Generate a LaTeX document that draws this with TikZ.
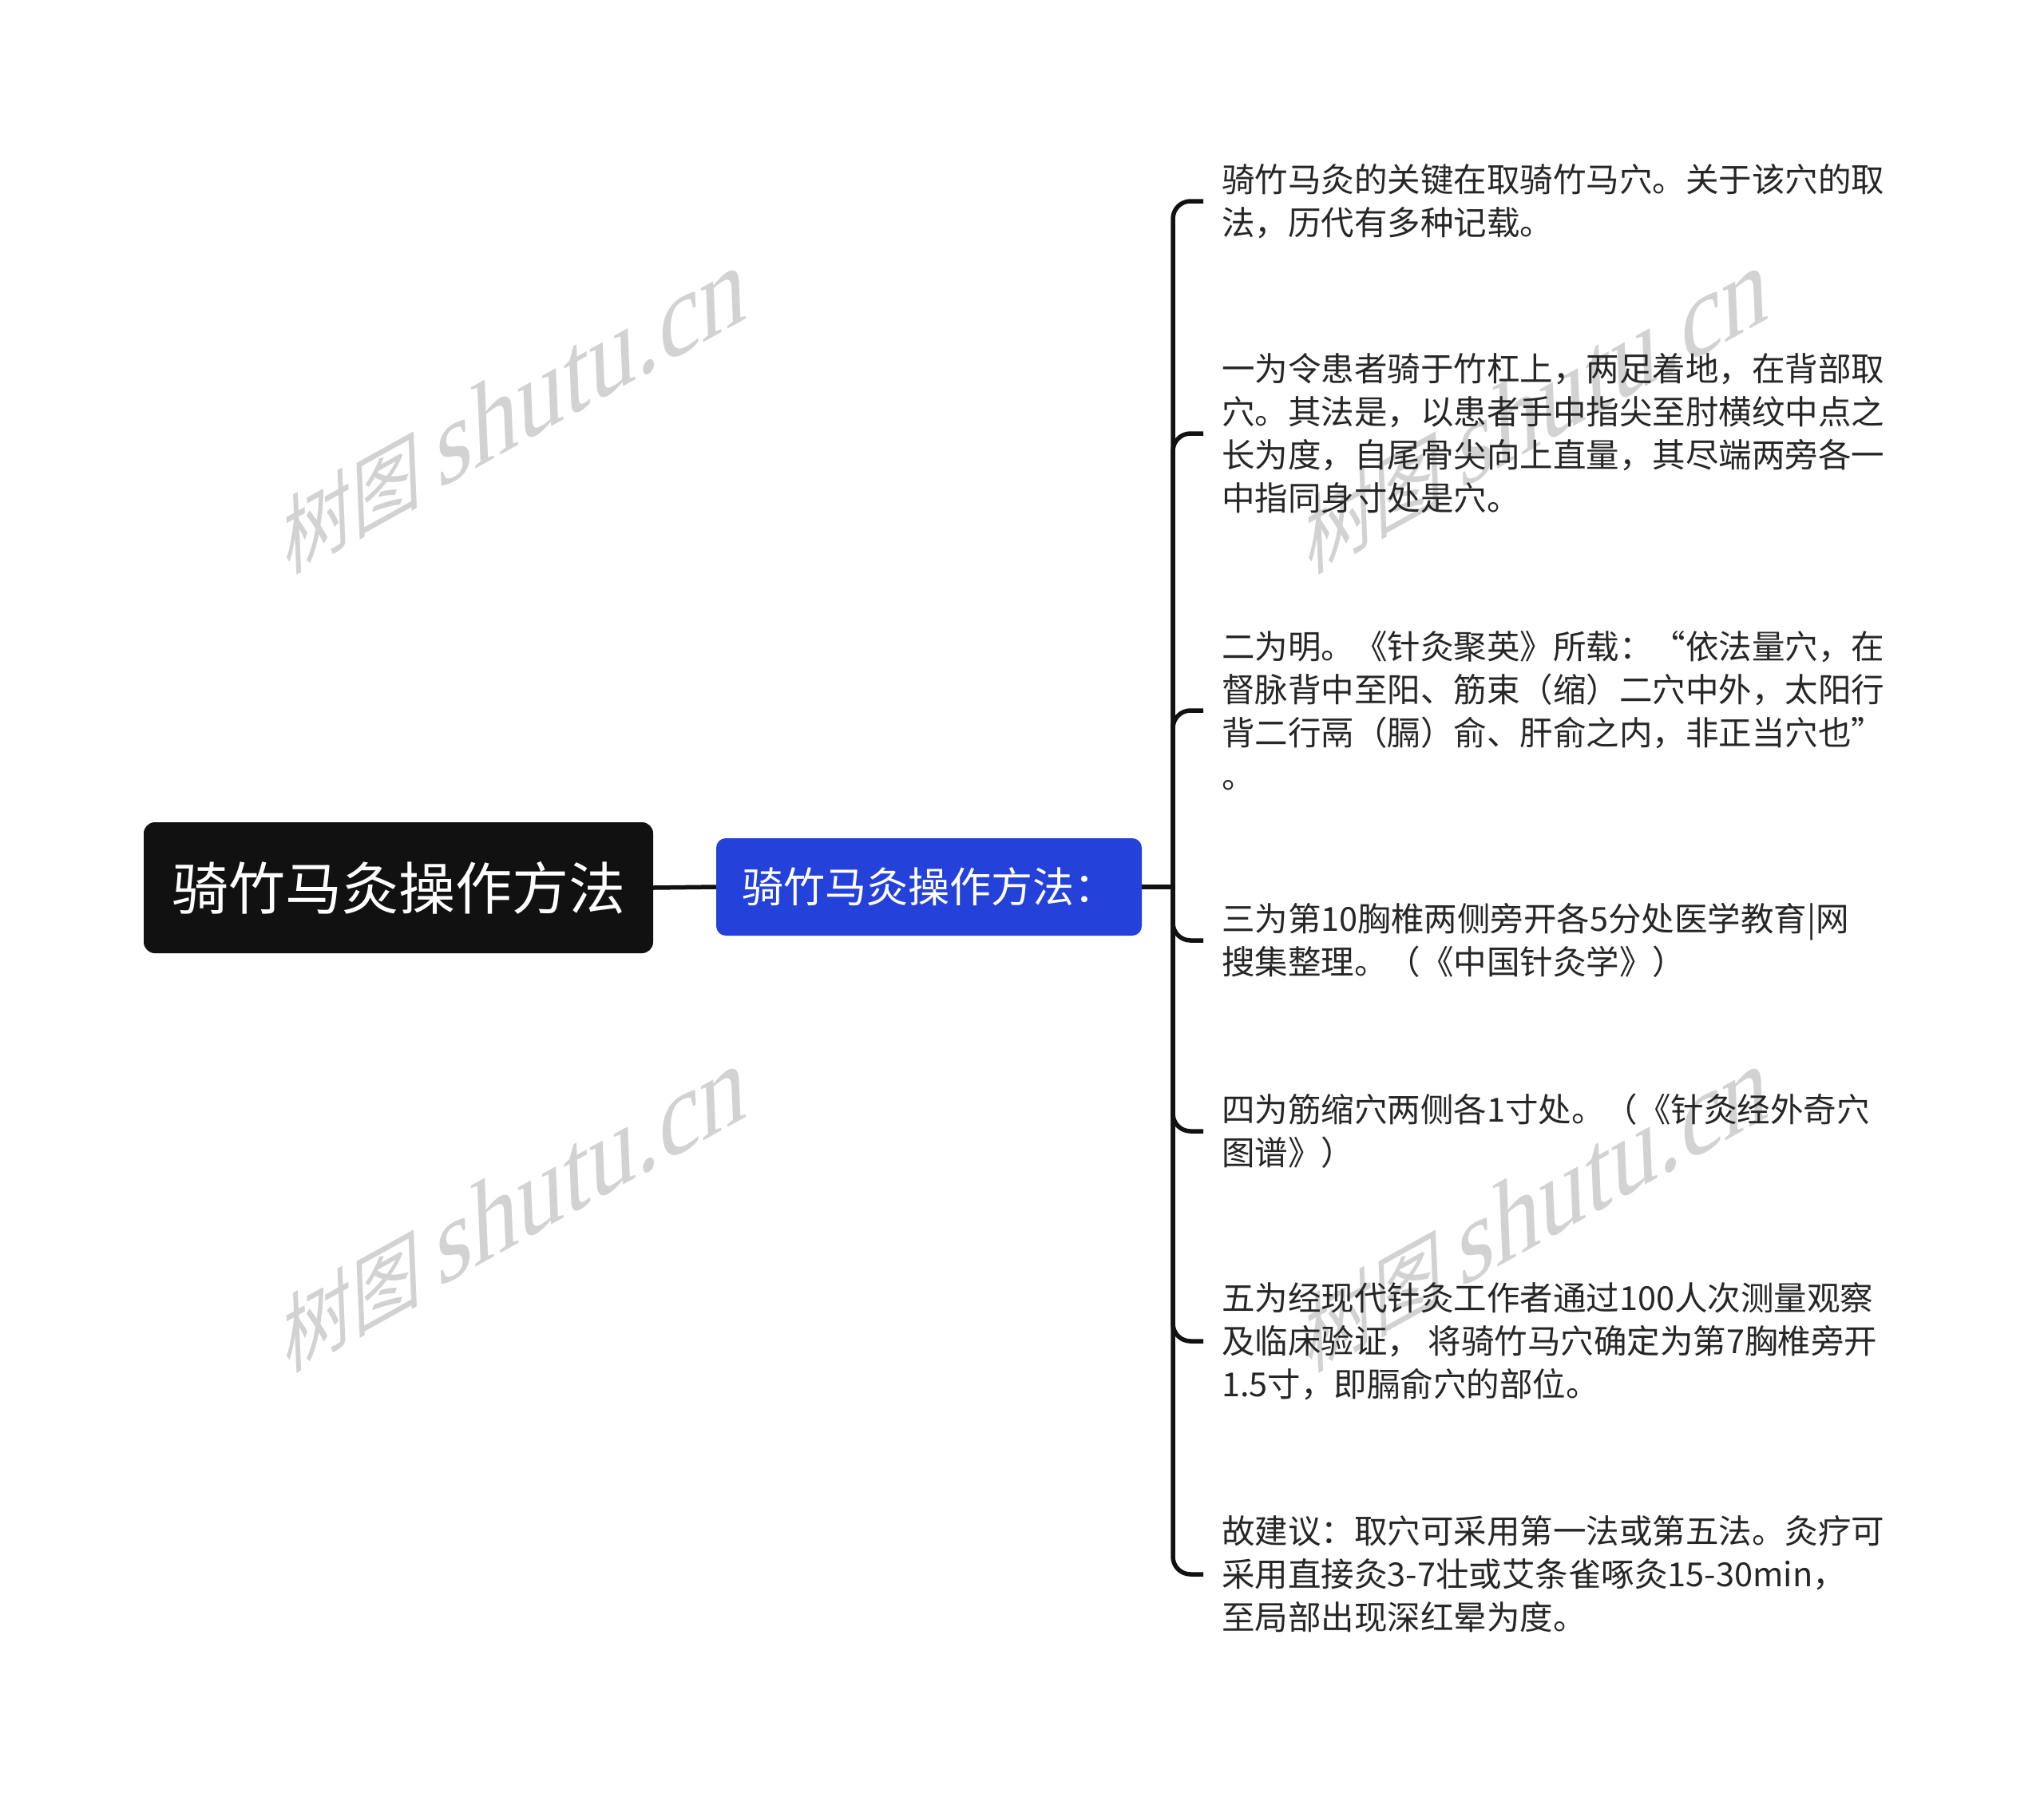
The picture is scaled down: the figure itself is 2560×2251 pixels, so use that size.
\documentclass[tikz,border=0pt]{standalone}
\usepackage{fontspec}
\newfontfamily\cjk{Noto Sans CJK SC}
\newfontfamily\wmserif{Liberation Serif}
\definecolor{rootfill}{HTML}{111111}
\definecolor{bluefill}{HTML}{2441DA}
\definecolor{wmgray}{HTML}{D2D2D2}
\definecolor{txt}{HTML}{262626}
\definecolor{linecol}{HTML}{111111}
\tikzset{
  conn/.style={line width=5.5pt, draw=linecol, rounded corners=22pt},
  rootbox/.style={rectangle, rounded corners=14pt, fill=rootfill, text=white,
    minimum width=638pt, minimum height=164pt, inner sep=0pt,
    font=\cjk\fontsize{71}{80}\selectfont},
  subbox/.style={rectangle, rounded corners=12pt, fill=bluefill, text=white,
    minimum width=533pt, minimum height=122pt, inner sep=0pt,
    font=\cjk\fontsize{52}{60}\selectfont},
  leaf/.style={anchor=west, inner xsep=23pt, inner ysep=0pt, align=left,
    text=txt, font=\cjk\fontsize{41.5}{54}\selectfont},
  wm/.style={text=wmgray, inner sep=0pt, transform shape}
}
\newcommand{\wmtext}{{\cjk\fontsize{98}{100}\selectfont 树图}\hspace{22pt}{\wmserif\fontsize{132}{134}\selectfont shutu.cn}}
\begin{document}
\begin{tikzpicture}[x=1pt,y=-1pt]
\useasboundingbox (0,0) rectangle (2560,2251);
\fill[white] (0,0) rectangle (2560,2251);

% watermarks
\begin{scope}[shift={(645,512)},rotate=29,xslant=0.5]
\node[wm] (wm1) at (0,0) {\wmtext};
\end{scope}
\begin{scope}[shift={(1925,512)},rotate=29,xslant=0.5]
\node[wm] (wm2) at (0,0) {\wmtext};
\end{scope}
\begin{scope}[shift={(645,1512)},rotate=29,xslant=0.5]
\node[wm] (wm3) at (0,0) {\wmtext};
\end{scope}
\begin{scope}[shift={(1925,1512)},rotate=29,xslant=0.5]
\node[wm] (wm4) at (0,0) {\wmtext};
\end{scope}

% main nodes
\node[rootbox] (root) at (499,1112) {骑竹马灸操作方法};
\node[subbox] (sub) at (1163.5,1111) {骑竹马灸操作方法：};
\coordinate (bus) at (1469,1111);

% leaves
\node[leaf] (t1) at (1507,252) {骑竹马灸的关键在取骑竹马穴。关于该穴的取\\法，历代有多种记载。};
\node[leaf] (t2) at (1507,543) {一为令患者骑于竹杠上，两足着地，在背部取\\穴。其法是，以患者手中指尖至肘横纹中点之\\长为度，自尾骨尖向上直量，其尽端两旁各一\\中指同身寸处是穴。};
\node[leaf] (t3) at (1507,890) {二为明。《针灸聚英》所载：“依法量穴，在\\督脉背中至阳、筋束（缩）二穴中外，太阳行\\背二行鬲（膈）俞、肝俞之内，非正当穴也”\\。};
\node[leaf] (t4) at (1507,1178) {三为第10胸椎两侧旁开各5分处医学教育|网\\搜集整理。（《中国针灸学》）};
\node[leaf] (t5) at (1507,1417) {四为筋缩穴两侧各1寸处。（《针灸经外奇穴\\图谱》）};
\node[leaf] (t6) at (1507,1680) {五为经现代针灸工作者通过100人次测量观察\\及临床验证， 将骑竹马穴确定为第7胸椎旁开\\1.5寸，即膈俞穴的部位。};
\node[leaf] (t7) at (1507,1972) {故建议：取穴可采用第一法或第五法。灸疗可\\采用直接灸3-7壮或艾条雀啄灸15-30min，\\至局部出现深红晕为度。};

% connectors
\draw[conn] (root.east) -- (sub.west);
\draw[conn] (sub.east) -- (bus);
\foreach \t in {t1,t2,t3,t4,t5,t6,t7}{
  \draw[conn] (bus) |- (\t.west);
}
\end{tikzpicture}
\end{document}
